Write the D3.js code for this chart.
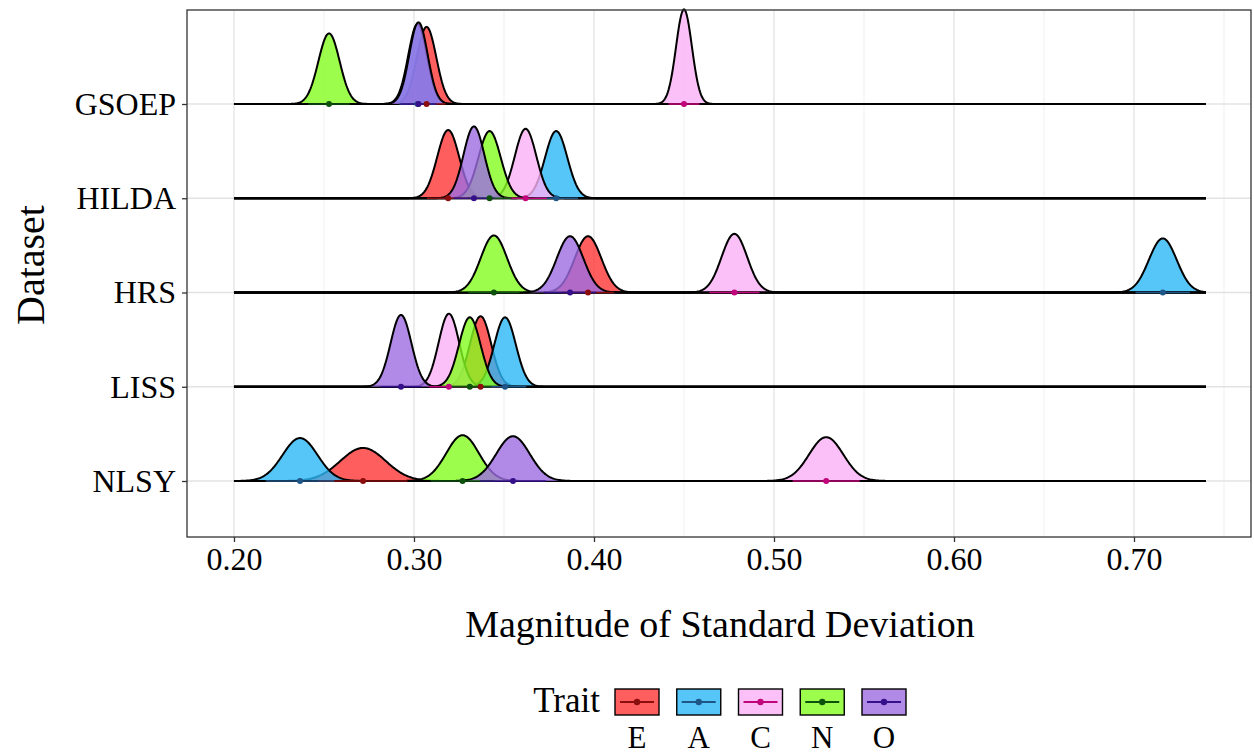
<!DOCTYPE html>
<html>
<head>
<meta charset="utf-8">
<script src="https://cdn.jsdelivr.net/npm/d3@7"></script>
<style>
  body { margin: 0; background: #fff; }
  svg { display: block; font-family: "Liberation Serif", "Times New Roman", serif; }
</style>
</head>
<body>
<div id="chart"></div>
<script>
// datasets, top to bottom
const datasets = ["GSOEP", "HILDA", "HRS", "LISS", "NLSY"];
const traits = ["E", "A", "C", "N", "O"];

// posterior medians, one array per trait (order = datasets)
const meanE = [0.307, 0.319, 0.3967, 0.337, 0.2717];
const meanA = [0.302, 0.379, 0.716, 0.3506, 0.2367];
const meanC = [0.450, 0.362, 0.478, 0.3194, 0.529];
const meanN = [0.2528, 0.342, 0.3444, 0.331, 0.327];
const meanO = [0.3025, 0.3333, 0.3867, 0.2928, 0.355];

// posterior spread (sd) estimated from the width / height of each ridge
const sdE = [0.0054, 0.0061, 0.0074, 0.0059, 0.0126];
const sdA = [0.0052, 0.0062, 0.0077, 0.0060, 0.0097];
const sdC = [0.0044, 0.0060, 0.0071, 0.0057, 0.0095];
const sdN = [0.0059, 0.0062, 0.0073, 0.0060, 0.0091];
const sdO = [0.0051, 0.0058, 0.0074, 0.0058, 0.0093];

const xTicks = [0.2, 0.3, 0.4, 0.5, 0.6, 0.7];
const xMinor = [0.25, 0.35, 0.45, 0.55, 0.65, 0.75];
const xRange = [0.2, 0.74]; // range the densities were evaluated on

const fills = { E: "#ff3636", A: "#2cb6f6", C: "#fbb0f6", N: "#83fc1f", O: "#9d6de2" };
const darks = { E: "#8b0d0d", A: "#1f5688", C: "#c0067a", N: "#0c520c", O: "#35108a" };

const means = { E: meanE, A: meanA, C: meanC, N: meanN, O: meanO };
const sds = { E: sdE, A: sdA, C: sdC, N: sdN, O: sdO };

const W = 1254, H = 755;
const panel = { left: 187, right: 1251, top: 10, bottom: 537 };

const svg = d3.select("#chart").append("svg")
  .attr("width", W).attr("height", H);

const x = d3.scaleLinear()
  .domain([0.1739, 0.765])
  .range([panel.left, panel.right]);

const y = d3.scalePoint()
  .domain(datasets)
  .range([104, 481]);

// density units -> pixels, same for every ridge
const hScale = d3.scaleLinear().domain([0, 100]).range([0, 104.4]);

// panel background + grid
svg.append("rect")
  .attr("x", panel.left).attr("y", panel.top)
  .attr("width", panel.right - panel.left).attr("height", panel.bottom - panel.top)
  .attr("fill", "#fff");

svg.append("g").selectAll("line")
  .data(xMinor.filter(d => x(d) < panel.right))
  .enter().append("line")
    .attr("x1", d => x(d)).attr("x2", d => x(d))
    .attr("y1", panel.top).attr("y2", panel.bottom)
    .attr("stroke", "#ececec").attr("stroke-width", 0.8);

svg.append("g").selectAll("line")
  .data(xTicks)
  .enter().append("line")
    .attr("x1", d => x(d)).attr("x2", d => x(d))
    .attr("y1", panel.top).attr("y2", panel.bottom)
    .attr("stroke", "#e3e3e3").attr("stroke-width", 1.3);

svg.append("g").selectAll("line")
  .data(datasets)
  .enter().append("line")
    .attr("x1", panel.left).attr("x2", panel.right)
    .attr("y1", d => y(d)).attr("y2", d => y(d))
    .attr("stroke", "#e3e3e3").attr("stroke-width", 1.3);

// densities
function normal(v, m, s) {
  return Math.exp(-0.5 * ((v - m) / s) ** 2) / (s * Math.sqrt(2 * Math.PI));
}
const grid = d3.range(xRange[0], xRange[1] + 1e-9, 0.0005);

const ridges = svg.append("g");
datasets.forEach((ds, i) => {
  const base = y(ds);
  traits.forEach(t => {
    const m = means[t][i], s = sds[t][i];
    const pts = grid.map(v => [v, normal(v, m, s)]);
    const area = d3.area()
      .x(d => x(d[0]))
      .y0(base)
      .y1(d => base - hScale(d[1]));
    ridges.append("path")
      .datum(pts)
      .attr("d", area)
      .attr("fill", fills[t])
      .attr("fill-opacity", 0.8)
      .attr("stroke", "none");
    const line = d3.line()
      .x(d => x(d[0]))
      .y(d => base - hScale(d[1]));
    ridges.append("path")
      .datum(pts)
      .attr("d", line)
      .attr("fill", "none")
      .attr("stroke", "#000")
      .attr("stroke-width", 2)
      .attr("stroke-linejoin", "round");
  });
});

// intervals and medians
const pointsG = svg.append("g");
datasets.forEach((ds, i) => {
  traits.forEach(t => {
    const m = means[t][i], s = sds[t][i];
    pointsG.append("line")
      .attr("x1", x(m - 1.96 * s)).attr("x2", x(m + 1.96 * s))
      .attr("y1", y(ds)).attr("y2", y(ds))
      .attr("stroke", darks[t]).attr("stroke-width", 1.6);
  });
  traits.forEach(t => {
    pointsG.append("circle")
      .attr("cx", x(means[t][i])).attr("cy", y(ds))
      .attr("r", 3).attr("fill", darks[t]);
  });
});

// panel border
svg.append("rect")
  .attr("x", panel.left).attr("y", panel.top)
  .attr("width", panel.right - panel.left).attr("height", panel.bottom - panel.top)
  .attr("fill", "none").attr("stroke", "#333").attr("stroke-width", 1.3);

// axes
const xAxis = svg.append("g")
  .attr("transform", `translate(0,${panel.bottom})`)
  .call(d3.axisBottom(x).tickValues(xTicks).tickFormat(d3.format(".2f")).tickSize(5).tickPadding(5));
xAxis.select(".domain").remove();
xAxis.selectAll("line").attr("stroke", "#333").attr("stroke-width", 1.3);
xAxis.selectAll("text").attr("font-size", 32).attr("fill", "#000")
  .attr("font-family", "Liberation Serif, serif");

const yAxis = svg.append("g")
  .attr("transform", `translate(${panel.left},0)`)
  .call(d3.axisLeft(y).tickSize(5).tickPadding(6));
yAxis.select(".domain").remove();
yAxis.selectAll("line").attr("stroke", "#333").attr("stroke-width", 1.3);
yAxis.selectAll("text").attr("font-size", 32).attr("fill", "#000")
  .attr("font-family", "Liberation Serif, serif");

svg.append("text")
  .attr("x", 720).attr("y", 637)
  .attr("text-anchor", "middle").attr("font-size", 38)
  .text("Magnitude of Standard Deviation");

svg.append("text")
  .attr("transform", "translate(44,265) rotate(-90)")
  .attr("text-anchor", "middle").attr("font-size", 40)
  .text("Dataset");

// legend
const legend = svg.append("g");
legend.append("text")
  .attr("x", 600).attr("y", 712)
  .attr("text-anchor", "end").attr("font-size", 35)
  .text("Trait");

const keyX = d3.scalePoint().domain(traits).range([637, 884]);
traits.forEach(t => {
  const cx = keyX(t);
  const k = legend.append("g");
  k.append("rect")
    .attr("x", cx - 22).attr("y", 689).attr("width", 44).attr("height", 26)
    .attr("fill", fills[t]).attr("fill-opacity", 0.8)
    .attr("stroke", "#000").attr("stroke-width", 1.4);
  k.append("line")
    .attr("x1", cx - 17).attr("x2", cx + 17).attr("y1", 702).attr("y2", 702)
    .attr("stroke", darks[t]).attr("stroke-width", 1.8);
  k.append("circle")
    .attr("cx", cx).attr("cy", 702).attr("r", 3.2).attr("fill", darks[t]);
  legend.append("text")
    .attr("x", cx).attr("y", 748)
    .attr("text-anchor", "middle").attr("font-size", 31)
    .text(t);
});
</script>
</body>
</html>
